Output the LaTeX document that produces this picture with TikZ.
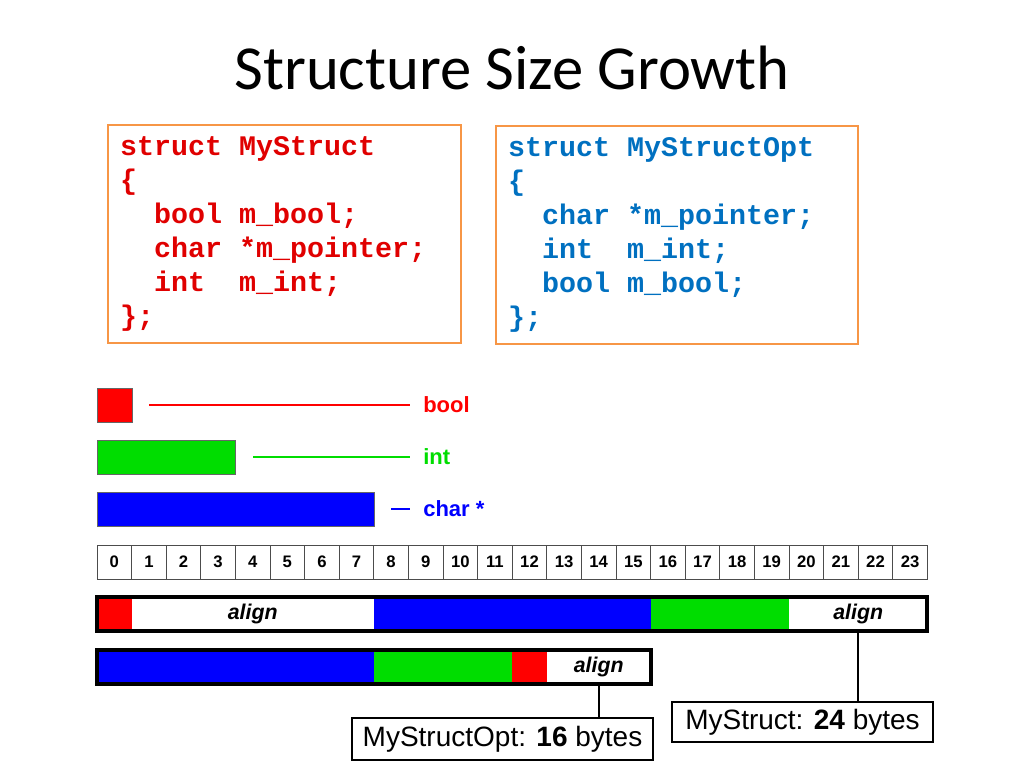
\documentclass[tikz,border=0pt]{standalone}
\usepackage{fontspec}
\setmainfont{Liberation Sans}
\setmonofont{Liberation Mono}
\newfontfamily\titlefont{Carlito}
\usetikzlibrary{positioning}
\definecolor{codered}{RGB}{224,0,0}
\definecolor{codeblue}{RGB}{0,112,192}
\definecolor{boxorange}{RGB}{247,150,70}
\definecolor{byteblue}{RGB}{0,0,255}
\definecolor{bytegreen}{RGB}{0,221,0}
\definecolor{bytered}{RGB}{255,0,0}
% one fixed-width blank in the code boxes
\newcommand\csp{\hspace*{0.6em}}
\tikzset{
  codebox/.style={draw=boxorange, line width=1.5pt, minimum height=163.5pt, inner xsep=9pt, inner ysep=0pt, align=left, font=\ttfamily\bfseries\fontsize{21.25}{25.5}\selectfont},
  cell/.style={draw=black!70, line width=0.6pt, minimum width=25.95pt, minimum height=25.5pt, inner sep=0pt, font=\bfseries\fontsize{12.5}{14}\selectfont},
  seg/.style={minimum height=25pt, inner sep=0pt, outer sep=0pt, anchor=west, font=\bfseries\itshape\fontsize{16}{18}\selectfont},
  rowframe/.style={line width=3pt},
  key/.style={draw=black!60, line width=0.5pt, minimum height=25.5pt, inner sep=0pt, anchor=west},
  keytext/.style={anchor=west, inner sep=0pt, font=\bfseries\fontsize{16.5}{18}\selectfont},
  keyline/.style={line width=1.5pt, shorten <=12.75pt, shorten >=9.75pt},
  sizebox/.style={draw, line width=1.5pt, inner sep=0pt, font=\fontsize{21}{24}\selectfont},
  tie/.style={line width=1.5pt}
}
\begin{document}
\begin{tikzpicture}[x=0.75pt, y=-0.75pt]
  \useasboundingbox (0,0) rectangle (1024,768);
  \node[font=\titlefont\fontsize{47}{50}\selectfont] (title) at (512,68) {Structure Size Growth};

  \node[codebox, text=codered, text width=246.75pt] (plain) at (284.5,234)
    {struct\csp MyStruct\\\{\\\csp\csp bool\csp m\_bool;\\\csp\csp char\csp*m\_pointer;\\\csp\csp int\csp\csp m\_int;\\\};};
  \node[codebox, text=codeblue, text width=253.5pt] (opt) at (677,234.5)
    {struct\csp MyStructOpt\\\{\\\csp\csp char\csp*m\_pointer;\\\csp\csp int\csp\csp m\_int;\\\csp\csp bool\csp m\_bool;\\\};};

  % legend
  \node[key, fill=bytered, minimum width=25.95pt] (kb) at (97,405) {};
  \node[key, fill=bytegreen, minimum width=103.8pt] (ki) at (97,457) {};
  \node[key, fill=byteblue, minimum width=207.6pt] (kc) at (97,509) {};
  \node[keytext, text=bytered] (tb) at (423,405) {bool};
  \node[keytext, text=bytegreen] (ti) at (423,457) {int};
  \node[keytext, text=byteblue] (tc) at (423,509) {char *};
  \path (kb) edge[keyline, draw=bytered] (tb)
        (ki) edge[keyline, draw=bytegreen] (ti)
        (kc) edge[keyline, draw=byteblue, line width=2.2pt] (tc);

  % byte offsets
  \foreach \i in {0,...,23}
    \node[cell] (b\i) at ({97+34.6*(\i+0.5)},562) {\i};

  % MyStruct layout
  \node[seg, fill=bytered, minimum width=25.95pt] (m1) at (97,614) {};
  \node[seg, minimum width=181.65pt, right=0pt of m1] (m2) {align};
  \node[seg, fill=byteblue, minimum width=207.6pt, right=0pt of m2] (m3) {};
  \node[seg, fill=bytegreen, minimum width=103.8pt, right=0pt of m3] (m4) {};
  \node[seg, minimum width=103.8pt, right=0pt of m4] (m5) {align};
  \draw[rowframe] (m1.north west) rectangle (m5.south east);

  % MyStructOpt layout
  \node[seg, fill=byteblue, minimum width=207.6pt] (o1) at (97,667) {};
  \node[seg, fill=bytegreen, minimum width=103.8pt, right=0pt of o1] (o2) {};
  \node[seg, fill=bytered, minimum width=25.95pt, right=0pt of o2] (o3) {};
  \node[seg, minimum width=77.85pt, right=0pt of o3] (o4) {align};
  \draw[rowframe] (o1.north west) rectangle (o4.south east);

  % sizes
  \node[sizebox, minimum width=195.75pt, minimum height=30pt] (s24) at (802.5,722) {MyStruct: \textbf{24} bytes};
  \node[sizebox, minimum width=225.75pt, minimum height=31.5pt] (s16) at (502.5,739) {MyStructOpt: \textbf{16} bytes};
  \path[tie] (m5.south) edge (m5.south |- s24.north)
             (o4.south) edge (o4.south |- s16.north);
\end{tikzpicture}
\end{document}
